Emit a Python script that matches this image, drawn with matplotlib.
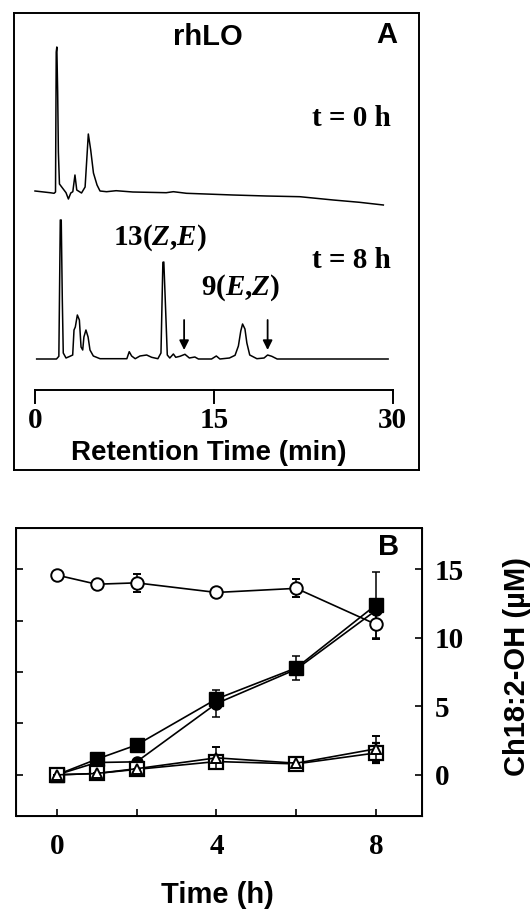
import matplotlib
matplotlib.use('Agg')
import matplotlib.pyplot as plt

plt.rcParams['mathtext.fontset'] = 'custom'
plt.rcParams['mathtext.it'] = 'Liberation Serif:italic:bold'
plt.rcParams['mathtext.rm'] = 'Liberation Serif:bold'

SANS = 'Liberation Sans'
SERIF = 'Liberation Serif'

# ---- panel A: chromatograms (retention time in min, signal above baseline) ----
t0_time = [0, 1.26, 1.6, 1.72, 1.78, 1.83, 1.9, 1.96, 2.05, 2.6, 2.8, 3.0, 3.17, 3.35, 3.5,
           3.9, 4.2, 4.47, 4.67, 4.9, 5.2, 5.45, 6.0, 6.8, 8.2, 11.0, 11.6, 12.7, 16.6,
           19.4, 22.2, 23.3, 25.0, 27.2, 29.2]
t0_signal = [1, -0.7, -1.3, 0, 140, 145, 100, 40, 8, -0.7, -7, -1, 0.3, 17, 2,
             -1, 5, 58, 42, 19, 7, 1, 0.3, 1.3, 0, -0.7, 0.3, -1.3, -3,
             -4, -4.7, -6, -8, -10.3, -13]

t8_time = [0.14, 1.8, 2.0, 2.12, 2.2, 2.29, 2.37, 2.6, 2.93, 3.16, 3.27, 3.38, 3.55, 3.72,
           3.86, 4.0, 4.1, 4.27, 4.45, 4.61, 4.89, 5.45, 7.7, 7.9, 8.1, 8.4, 8.8, 9.36,
           9.78, 10.3, 10.56, 10.72, 10.8, 10.92, 11.09, 11.3, 11.6, 11.8, 12.15, 12.57,
           12.94, 13.4, 13.7, 14.8, 15.2, 15.5, 16.3, 16.77, 17.05, 17.25, 17.4, 17.6,
           17.76, 18.0, 18.6, 19.2, 19.5, 19.85, 20.3, 29.6]
t8_signal = [0, 0, 2.7, 139, 139, 59, 6, 1, 2.7, 4, 29, 32, 44, 39,
             12, 9, 22, 29, 22, 9, 3, 0.3, 0.3, 7.3, 3, 0.3, 3, 4,
             1.7, 0.3, 6, 96.7, 97, 59, 4, 1, 5, 1.7, 2.7, 4.7,
             1, 2, 0, 0, 3, 0, 1, 3.7, 13, 28, 35, 30,
             16, 4, 0.3, 1, 4, 2.7, 0, 0]

arrow_times = [12.5, 19.5]
rt_ticks = [0, 15, 30]

# ---- panel B: time course ----
hours = [0, 1, 2, 4, 6, 8]
open_circle = [14.57, 13.9, 14.0, 13.3, 13.6, 10.97]
open_circle_err = [0, 0, 0.65, 0, 0.65, 1.1]
filled_square = [0, 1.14, 2.18, 5.53, 7.8, 12.4]
filled_square_err = [0, 0, 0, 0, 0.9, 2.4]
filled_circle = [0, 0.9, 0.95, 5.2, 7.7, 12.0]
filled_circle_err = [0, 0, 0, 1.0, 0, 0]
open_square = [0, 0.1, 0.4, 0.97, 0.8, 1.6]
open_square_err = [0, 0, 0, 0, 0, 0.7]
open_triangle = [0, 0.1, 0.45, 1.24, 0.85, 1.9]
open_triangle_err = [0, 0, 0, 0.8, 0, 0.9]

W, H = 530, 909
fig = plt.figure(figsize=(W / 100, H / 100), dpi=100)

# panel A, data units = pixels from box bottom
axA = fig.add_axes([14 / W, 1 - 470 / H, 405 / W, 457 / H])
axA.set_xlim(-1.76, 32.19)
axA.set_ylim(0, 457)
axA.set_xticks([])
axA.set_yticks([])
for s in axA.spines.values():
    s.set_linewidth(1.4)

base0, base8 = 278, 111
axA.plot(t0_time, [base0 + v for v in t0_signal], color='black', lw=1.1)
axA.plot(t8_time, [base8 + v for v in t8_signal], color='black', lw=1.1)

for t in arrow_times:
    axA.annotate('', xy=(t, 120), xytext=(t, 150),
                 arrowprops=dict(arrowstyle='-|>', color='black', lw=1.3,
                                 mutation_scale=14, shrinkA=0, shrinkB=0))

axA.plot([rt_ticks[0], rt_ticks[-1]], [80, 80], color='black', lw=1.4)
for t in rt_ticks:
    axA.plot([t, t], [80, 67], color='black', lw=1.4)
    axA.text(t, 49, str(t), ha='center', va='center', fontsize=21,
             family=SERIF, weight='bold')

axA.text(14.6, 17, 'Retention Time (min)', ha='center', va='center',
         fontsize=20, family=SANS, weight='bold')
axA.text(14.5, 433, 'rhLO', ha='center', va='center', fontsize=21,
         family=SANS, weight='bold')
axA.text(29.5, 435, 'A', ha='center', va='center', fontsize=21,
         family=SANS, weight='bold')
axA.text(29.8, 352, 't = 0 h', ha='right', va='center', fontsize=21,
         family=SERIF, weight='bold')
axA.text(29.8, 210, 't = 8 h', ha='right', va='center', fontsize=21,
         family=SERIF, weight='bold')
axA.text(10.5, 232, '13($Z$,$E$)', ha='center', va='center', fontsize=21,
         family=SERIF, weight='bold')
axA.text(17.2, 182, '9($E$,$Z$)', ha='center', va='center', fontsize=21,
         family=SERIF, weight='bold')

# panel B
axB = fig.add_axes([16 / W, 1 - 816 / H, 406 / W, 288 / H])
axB.set_xlim(-1.02, 9.15)
axB.set_ylim(-3, 18)

# left-hand scale (unlabelled ticks)
axL = axB.twinx()
axL.set_ylim(-4, 24)
axL.set_yticks([0, 5, 10, 15, 20])
axL.tick_params(axis='y', direction='in', length=5, width=1.2,
                left=True, right=False, labelleft=False, labelright=False)

lk = dict(color='black', lw=1.2, capsize=3, elinewidth=1.1, capthick=1.1)
axB.errorbar(hours, open_circle, yerr=open_circle_err, marker='o', ms=9,
             mfc='white', mec='black', mew=1.4, zorder=3, **lk)
axB.errorbar(hours, filled_circle, yerr=filled_circle_err, marker='o', ms=8,
             mfc='black', mec='black', zorder=2, **lk)
axB.errorbar(hours, filled_square, yerr=filled_square_err, marker='s', ms=10,
             mfc='black', mec='black', zorder=3, **lk)
axB.errorbar(hours, open_square, yerr=open_square_err, marker='s', ms=10,
             mfc='white', mec='black', mew=1.6, zorder=4, **lk)
axB.errorbar(hours, open_triangle, yerr=open_triangle_err, marker='^', ms=7,
             mfc='white', mec='black', mew=1.4, zorder=5, **lk)

axB.set_xticks([0, 2, 4, 6, 8])
axB.set_xticklabels(['0', '', '4', '', '8'])
axB.set_yticks([0, 5, 10, 15])
axB.tick_params(axis='y', left=False, right=True, labelleft=False,
                labelright=True)
axB.tick_params(direction='in', length=5, width=1.2, labelsize=21, pad=9)
axB.tick_params(axis='x', pad=12)
for lab in axB.get_xticklabels() + axB.get_yticklabels():
    lab.set_family(SERIF)
    lab.set_weight('bold')
for s in axB.spines.values():
    s.set_linewidth(1.4)

axB.text(8.3, 16.6, 'B', ha='center', va='center', fontsize=21,
         family=SANS, weight='bold')

fig.text(217 / W, 1 - 895 / H, 'Time (h)', ha='center', va='center',
         fontsize=21, family=SANS, weight='bold')
fig.text(517 / W, 1 - 666 / H, 'Ch18:2-OH (µM)', ha='center', va='center',
         rotation=90, fontsize=21, family=SANS, weight='bold')

fig.savefig('out.png', dpi=100)
